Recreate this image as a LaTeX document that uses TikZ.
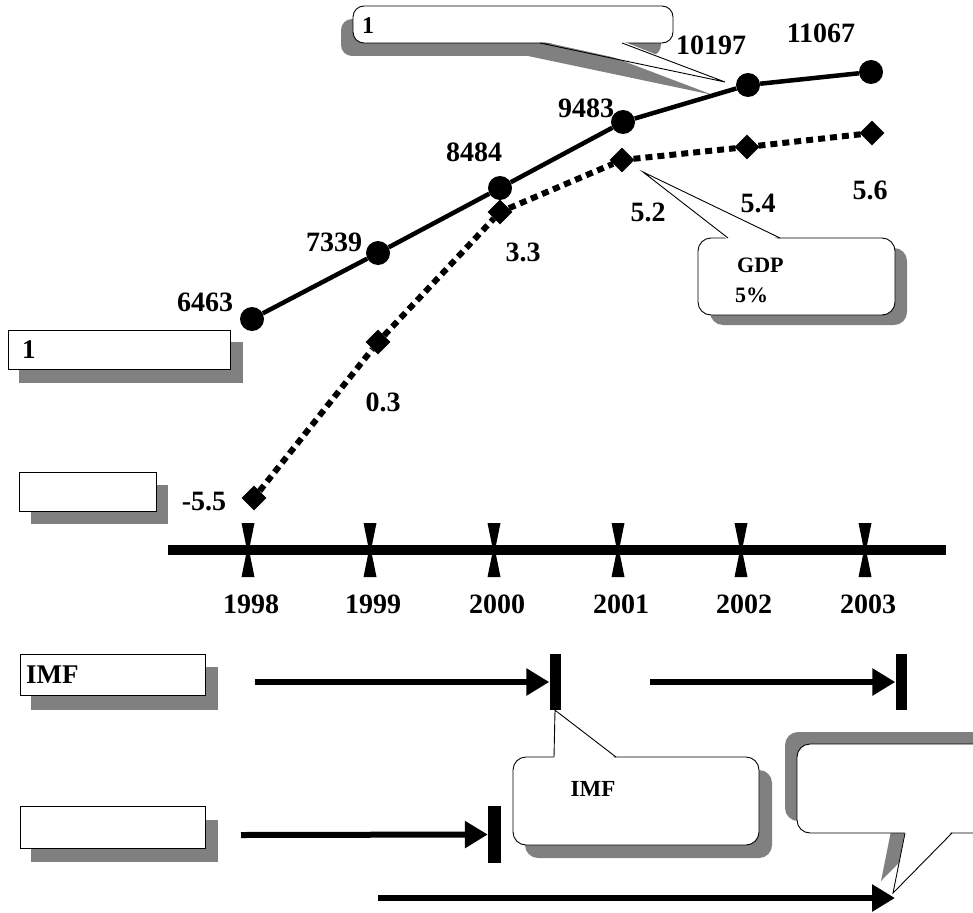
\documentclass[tikz,border=0pt]{standalone}
\usepackage{fontspec}
\setmainfont{Liberation Serif}
\usetikzlibrary{shapes.geometric,arrows.meta}
\definecolor{shade}{HTML}{808080}
\begin{document}
\begin{tikzpicture}[x=1pt,y=-1pt,
  lbl/.style={font=\fontsize{28}{28}\selectfont\bfseries,inner sep=0pt},
  boxtxt/.style={font=\fontsize{27}{27}\selectfont\bfseries,inner sep=0pt,anchor=west},
  ctxt/.style={font=\fontsize{22}{22}\selectfont\bfseries,inner sep=0pt},
  dotnode/.style={circle,fill=black,inner sep=0pt,minimum size=24pt},
  dia/.style={diamond,fill=black,inner sep=0pt,minimum size=25pt},
  solidln/.style={line width=4.5pt},
  dotln/.style={line width=6pt,dash pattern=on 7pt off 5pt},
  arr/.style={line width=6pt,-{Triangle[length=23pt,width=26pt]}},
  barnode/.style={fill=black,inner sep=0pt,minimum width=11pt,minimum height=56pt},
  frame/.style={draw=black,line width=0.9pt,fill=white},
  shd/.style={fill=shade},
  cframe/.style={draw=black,line width=0.9pt,fill=white,rounded corners=13pt},
]
\clip (0,0) rectangle (973,912);
\useasboundingbox (0,0) rectangle (973,912);

% ---------- top callout ----------
\fill[shd,rounded corners=11pt] (341,19) rectangle (661,56);
\fill[shd] (528,56) -- (713,95) -- (610,56) -- cycle;
\draw[cframe,rounded corners=11pt] (353,6) rectangle (673,43);
\fill[white] (540,41) -- (725,82) -- (622,41) -- cycle;
\coordinate (t1tip) at (725,82);
\draw[line width=0.9pt] (540,43) -- (t1tip) -- (622,43);
\node[boxtxt,font=\fontsize{24}{24}\selectfont\bfseries] (t1txt) at (362,26) {1};

% ---------- GDP callout ----------
\fill[shd,rounded corners=13pt] (710,248) rectangle (907,325);
\draw[cframe] (698,238) rectangle (895,315);
\coordinate (gtip) at (643,172);
\fill[white] (728,240) -- (gtip) -- (780,240) -- cycle;
\draw[line width=0.9pt] (728,238) -- (gtip) -- (780,238);
\node[ctxt,anchor=west] (gdp1) at (737,265) {GDP};
\node[ctxt,anchor=west] (gdp2) at (735,295) {5\%};

% ---------- left boxes ----------
\fill[shd] (19,342) rectangle (243,383);
\node[frame,minimum width=222pt,minimum height=39pt,inner sep=0pt] (bx1) at (119,349.5) {};
\node[boxtxt] (bx1t) at (22,350) {1};

\fill[shd] (31,485) rectangle (168,524);
\node[frame,minimum width=137pt,minimum height=39pt,inner sep=0pt] (bx2) at (87.5,491.5) {};

\fill[shd] (31,667) rectangle (218,710);
\node[frame,minimum width=185pt,minimum height=41pt,inner sep=0pt] (bx3) at (112.5,674.5) {};
\node[boxtxt] (bx3t) at (26,675) {IMF};

\fill[shd] (31,820) rectangle (218,862);
\node[frame,minimum width=185pt,minimum height=42pt,inner sep=0pt] (bx4) at (112.5,827) {};

% ---------- axis ----------
\coordinate (axL) at (168,550);
\coordinate (axR) at (946,550);
\draw[line width=10pt] (axL) -- (axR);
\foreach \x/\yr in {248/1998,370/1999,494/2000,618/2001,741/2002,865/2003} {
  \fill (\x-6.5,523) -- (\x+6.5,523) -- (\x+1,550) -- (\x-1,550) -- cycle;
  \fill (\x-6.5,577) -- (\x+6.5,577) -- (\x+1,550) -- (\x-1,550) -- cycle;
  \node[lbl] (yr\yr) at (\x+3,604) {\yr};
}

% ---------- data: solid series ----------
\node[dotnode] (c1) at (252,319) {};
\node[dotnode] (c2) at (378,253) {};
\node[dotnode] (c3) at (500,188) {};
\node[dotnode] (c4) at (623,122) {};
\node[dotnode] (c5) at (748,85) {};
\node[dotnode] (c6) at (871,72) {};
\draw[solidln] (c1) -- (c2) -- (c3) -- (c4) -- (c5) -- (c6);

\node[lbl] (v1) at (205,302) {6463};
\node[lbl] (v2) at (334,242) {7339};
\node[lbl] (v3) at (474,152) {8484};
\node[lbl] (v4) at (586,108) {9483};
\node[lbl] (v5) at (711,45) {10197};
\node[lbl] (v6) at (821,33) {11067};

% ---------- data: dotted series ----------
\node[dia] (d1) at (254,498) {};
\node[dia] (d2) at (378,342) {};
\node[dia] (d3) at (500,212) {};
\node[dia] (d4) at (622,160) {};
\node[dia] (d5) at (747,147) {};
\node[dia] (d6) at (872,133) {};
\draw[dotln] (d1) -- (d2);
\draw[dotln] (d2) -- (d3);
\draw[dotln] (d3) -- (d4);
\draw[dotln] (d4) -- (d5);
\draw[dotln] (d5) -- (d6);

\node[lbl] (g1) at (204,502) {-5.5};
\node[lbl] (g2) at (383,402) {0.3};
\node[lbl] (g3) at (523,252) {3.3};
\node[lbl] (g4) at (648,212) {5.2};
\node[lbl] (g5) at (758,203) {5.4};
\node[lbl] (g6) at (870,190) {5.6};

% ---------- timeline arrows ----------
\node[barnode] (bar1) at (555,682) {};
\node[barnode] (bar2) at (901,682) {};
\node[barnode,minimum height=57pt,minimum width=13pt] (bar3) at (494.5,834.5) {};
\coordinate (a1) at (255,682);
\coordinate (a2) at (650,682);
\coordinate (a3) at (241,835);
\coordinate (a4) at (378,898);
\coordinate (a4e) at (895,898);
\draw[arr] (a1) -- (bar1.west);
\draw[arr] (a2) -- (bar2.west);
\draw[arr] (a3) -- (bar3.west);
\draw[arr] (a4) -- (a4e);

% ---------- IMF callout ----------
\fill[shd,rounded corners=13pt] (525,770) rectangle (772,858);
\draw[cframe] (513,757) rectangle (759,845);
\fill[white] (554,759) -- (bar1.south) -- (616,759) -- cycle;
\draw[line width=0.9pt] (554,757) -- (bar1.south) -- (616,757);
\node[ctxt,font=\fontsize{23}{23}\selectfont\bfseries] (imft) at (593,789) {IMF};

% ---------- right callout ----------
\coordinate (rtip) at (893,893);
\fill[shd,rounded corners=13pt] (785,732) rectangle (990,821);
\fill[shd] (893,821) -- (881,881) -- (940,821) -- cycle;
\draw[cframe] (797,744) rectangle (1000,833);
\fill[white] (905,831) -- (rtip) -- (952,831) -- cycle;
\draw[line width=0.9pt] (905,833) -- (rtip) -- (952,833);
\end{tikzpicture}
\end{document}
